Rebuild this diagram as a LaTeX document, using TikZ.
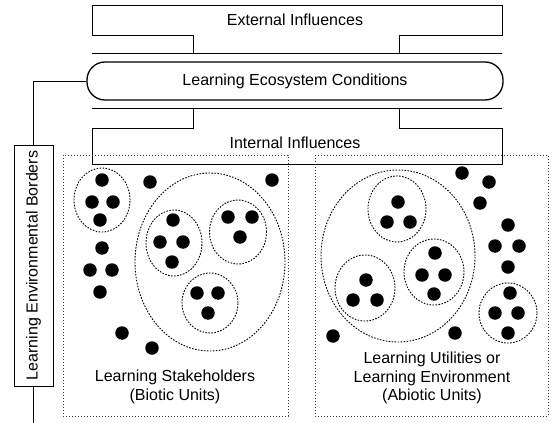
\documentclass[tikz,border=0pt]{standalone}
\usepackage{fontspec}
\setmainfont{Liberation Sans}
\usetikzlibrary{shapes.geometric}
\begin{document}
\begin{tikzpicture}[x=1pt,y=-1pt,
  lbl/.style={font=\fontsize{16}{18.5}\selectfont, align=center, inner sep=0pt},
  frame/.style={draw=black, line width=0.9pt},
  pill/.style={draw=black, line width=1.3pt, rounded corners=18pt, minimum width=416pt, minimum height=38pt},
  dot/.style={circle, fill=black, inner sep=0pt, minimum size=13.5pt},
  grp/.style={ellipse, draw=black, line width=0.9pt, dash pattern=on 1.6pt off 1.4pt, inner sep=0pt},
  panel/.style={draw=black!80, line width=0.9pt, dash pattern=on 1pt off 2pt},
  link/.style={draw=black, line width=0.9pt}]
\useasboundingbox (0,0) rectangle (555,423);
\fill[white] (0,0) rectangle (555,423);

% External influences
\draw[frame] (92,5) -- (502,5) -- (502,35) -- (399,35) -- (399,53) -- (193,53) -- (193,35) -- (92,35) -- cycle;
\draw[frame] (92,53) -- (193,53) (399,53) -- (502,53);
\node[lbl] (ext) at (295,20) {External Influences};

% Ecosystem conditions
\node[pill, lbl] (ecs) at (295,81) {Learning Ecosystem Conditions};

% Internal influences
\draw[frame] (92,108) -- (502,108);
\draw[frame] (193,108) -- (193,128) -- (92,128) -- (92,164) -- (502,164) -- (502,128) -- (399,128) -- (399,108);
\node[lbl] (int) at (295,143) {Internal Influences};

% Panels
\draw[panel] (63,155) rectangle (288,416);
\draw[panel] (315,155) rectangle (548,416);

% Borders box
\node[lbl, draw=black, line width=0.9pt, rotate=90, minimum width=241pt, minimum height=39pt] (brd) at (33.5,265.5) {Learning Environmental Borders};
\coordinate (bend) at (33.5,423);
\draw[link] (ecs.west) -| (brd.east);
\draw[link] (brd.west) -- (bend);

% Left panel groups
\node[grp, minimum width=56pt, minimum height=64pt] (gA) at (102,200) {};
\node[grp, minimum width=150pt, minimum height=178pt] (gL) at (210,262) {};
\node[grp, minimum width=56pt, minimum height=66pt] (gB) at (174,243) {};
\node[grp, minimum width=57pt, minimum height=64pt] (gC) at (238,232) {};
\node[grp, minimum width=56pt, minimum height=60pt] (gD) at (210,303) {};

\foreach \x/\y [count=\i] in {102/180, 92/202, 113/202, 100/220,
  150/182, 272/180, 102/248, 90/270, 112/270, 100/292, 122/333, 152/348,
  173/220, 160/242, 183/242, 172/262,
  228/217, 252/217, 240/237,
  197/293, 218/293, 208/313}
  {\node[dot] (l\i) at (\x,\y) {};}

% Right panel groups
\node[grp, minimum width=154pt, minimum height=172pt] (gR) at (398,256) {};
\node[grp, minimum width=58pt, minimum height=66pt] (gE) at (397,209) {};
\node[grp, minimum width=60pt, minimum height=66pt] (gF) at (434,272) {};
\node[grp, minimum width=60pt, minimum height=66pt] (gG) at (365,288) {};
\node[grp, minimum width=58pt, minimum height=60pt] (gH) at (508,313) {};

\foreach \x/\y [count=\i] in {398/202, 387/222, 410/222,
  435/253, 422/275, 445/275, 434/294,
  366/280, 353/300, 377/300,
  462/173, 489/182, 480/203, 508/225, 495/246, 519/246, 508/267, 333/336, 455/333,
  510/293, 495/313, 518/313, 508/333}
  {\node[dot] (r\i) at (\x,\y) {};}

% Labels
\node[lbl] (ltxt) at (175,387) {Learning Stakeholders\\(Biotic Units)};
\node[lbl] (rtxt) at (432,378) {Learning Utilities or\\Learning Environment\\(Abiotic Units)};
\end{tikzpicture}
\end{document}
